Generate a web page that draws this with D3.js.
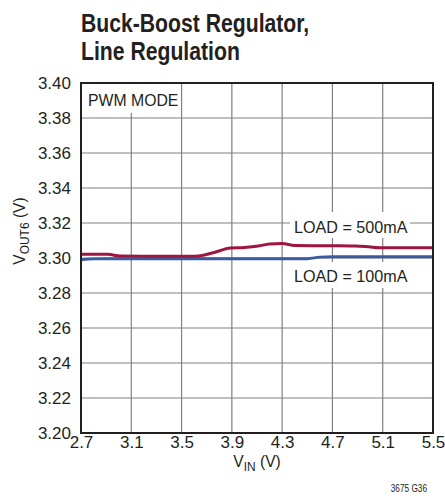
<!DOCTYPE html>
<html><head><meta charset="utf-8">
<script src="https://cdn.jsdelivr.net/npm/d3@7/dist/d3.min.js"></script>
<style>
body{margin:0;background:#fff;}
text{font-family:"Liberation Sans",Arial,sans-serif;fill:#231f20;}
</style></head>
<body><svg id="c" width="445" height="502"></svg>
<script>
const xTicks = [2.7, 3.1, 3.5, 3.9, 4.3, 4.7, 5.1, 5.5];
const yTicks = [3.20, 3.22, 3.24, 3.26, 3.28, 3.30, 3.32, 3.34, 3.36, 3.38, 3.40];
const vinRed  = [2.7, 2.915, 3.01, 3.3, 3.61, 3.75, 3.89, 4.0, 4.11, 4.2, 4.3, 4.4, 4.6, 4.88, 4.99, 5.07, 5.5];
const vout500 = [3.3021, 3.3021, 3.3011, 3.3010, 3.3010, 3.3030, 3.3057, 3.3060, 3.3068, 3.3080, 3.3083, 3.3071, 3.3070, 3.3069, 3.3064, 3.3059, 3.3059];
const vinBlue = [2.7, 2.8, 2.9, 3.5, 4.0, 4.5, 4.6, 4.7, 5.5];
const vout100 = [3.2990, 3.2995, 3.2996, 3.2996, 3.2996, 3.2996, 3.3005, 3.3007, 3.3007];

const svg = d3.select("#c");
const L = 81, R = 433, T = 83, B = 433;
const x = d3.scaleLinear().domain([2.7, 5.5]).range([L, R]);
const y = d3.scaleLinear().domain([3.20, 3.40]).range([B, T]);

function narrow(sel, s, ax, ay) {
  sel.attr("transform", `translate(${ax},${ay}) scale(${s},1) translate(${-ax},${-ay})`);
}

// title
narrow(svg.append("text").attr("x", 81).attr("y", 32).style("font-size", "26px").style("font-weight", "bold").text("Buck-Boost Regulator,"), 0.815, 81, 32);
narrow(svg.append("text").attr("x", 81).attr("y", 60).style("font-size", "26px").style("font-weight", "bold").text("Line Regulation"), 0.815, 81, 60);

// grid
const g = svg.append("g");
g.selectAll(".vg").data(xTicks.slice(1, -1)).enter().append("line")
  .attr("x1", d => x(d)).attr("x2", d => x(d)).attr("y1", T).attr("y2", B)
  .attr("stroke", "#808080").attr("stroke-width", 1.2);
g.selectAll(".hg").data(yTicks.slice(1, -1)).enter().append("line")
  .attr("x1", L).attr("x2", R).attr("y1", d => y(d)).attr("y2", d => y(d))
  .attr("stroke", "#808080").attr("stroke-width", 1.2);

// label masks
svg.append("rect").attr("x", 83).attr("y", 84).attr("width", 92).attr("height", 29).attr("fill", "#fff");
svg.append("rect").attr("x", 290).attr("y", 212).attr("width", 120).attr("height", 26).attr("fill", "#fff");
svg.append("rect").attr("x", 290).attr("y", 262).attr("width", 120).attr("height", 26).attr("fill", "#fff");

// lines
const line = d3.line().curve(d3.curveMonotoneX);
svg.append("path").attr("d", line(vinBlue.map((v, i) => [x(v), y(vout100[i])])))
  .attr("fill", "none").attr("stroke", "#3b5ba0").attr("stroke-width", 3);
svg.append("path").attr("d", line(vinRed.map((v, i) => [x(v), y(vout500[i])])))
  .attr("fill", "none").attr("stroke", "#9e1540").attr("stroke-width", 3);

// frame
svg.append("rect").attr("x", L).attr("y", T).attr("width", R - L).attr("height", B - T)
  .attr("fill", "none").attr("stroke", "#231f20").attr("stroke-width", 2);

// axes
const xa = svg.append("g").attr("transform", `translate(0,${B})`)
  .call(d3.axisBottom(x).tickValues(xTicks).tickFormat(d3.format(".1f")).tickSize(0).tickPadding(3));
xa.select(".domain").remove();
xa.selectAll("text").style("font-size", "17px").attr("fill", "#231f20");
const ya = svg.append("g").attr("transform", `translate(${L},0)`)
  .call(d3.axisLeft(y).tickValues(yTicks).tickFormat(d3.format(".2f")).tickSize(0).tickPadding(10));
ya.select(".domain").remove();
ya.selectAll("text").style("font-size", "17px").attr("fill", "#231f20");

// annotations
narrow(svg.append("text").attr("x", 88).attr("y", 106).style("font-size", "17px").text("PWM MODE"), 0.93, 88, 106);
narrow(svg.append("text").attr("x", 294).attr("y", 233).style("font-size", "17px").text("LOAD = 500mA"), 0.95, 294, 233);
narrow(svg.append("text").attr("x", 294).attr("y", 282).style("font-size", "17px").text("LOAD = 100mA"), 0.95, 294, 282);

// axis titles
const xt = svg.append("text").attr("x", 257).attr("y", 467).attr("text-anchor", "middle").style("font-size", "17px");
xt.append("tspan").text("V");
xt.append("tspan").attr("dy", 4).style("font-size", "13px").text("IN");
xt.append("tspan").attr("dy", -4).text(" (V)");
narrow(xt, 0.92, 257, 467);

const yt = svg.append("text").attr("transform", "translate(25,231) rotate(-90) scale(0.92,1)").attr("text-anchor", "middle").style("font-size", "17px");
yt.append("tspan").text("V");
yt.append("tspan").attr("dy", 4).style("font-size", "13px").text("OUT6");
yt.append("tspan").attr("dy", -4).text(" (V)");

narrow(svg.append("text").attr("x", 427).attr("y", 492).attr("text-anchor", "end").style("font-size", "11px").text("3675 G36"), 0.75, 427, 492);
</script></body></html>
